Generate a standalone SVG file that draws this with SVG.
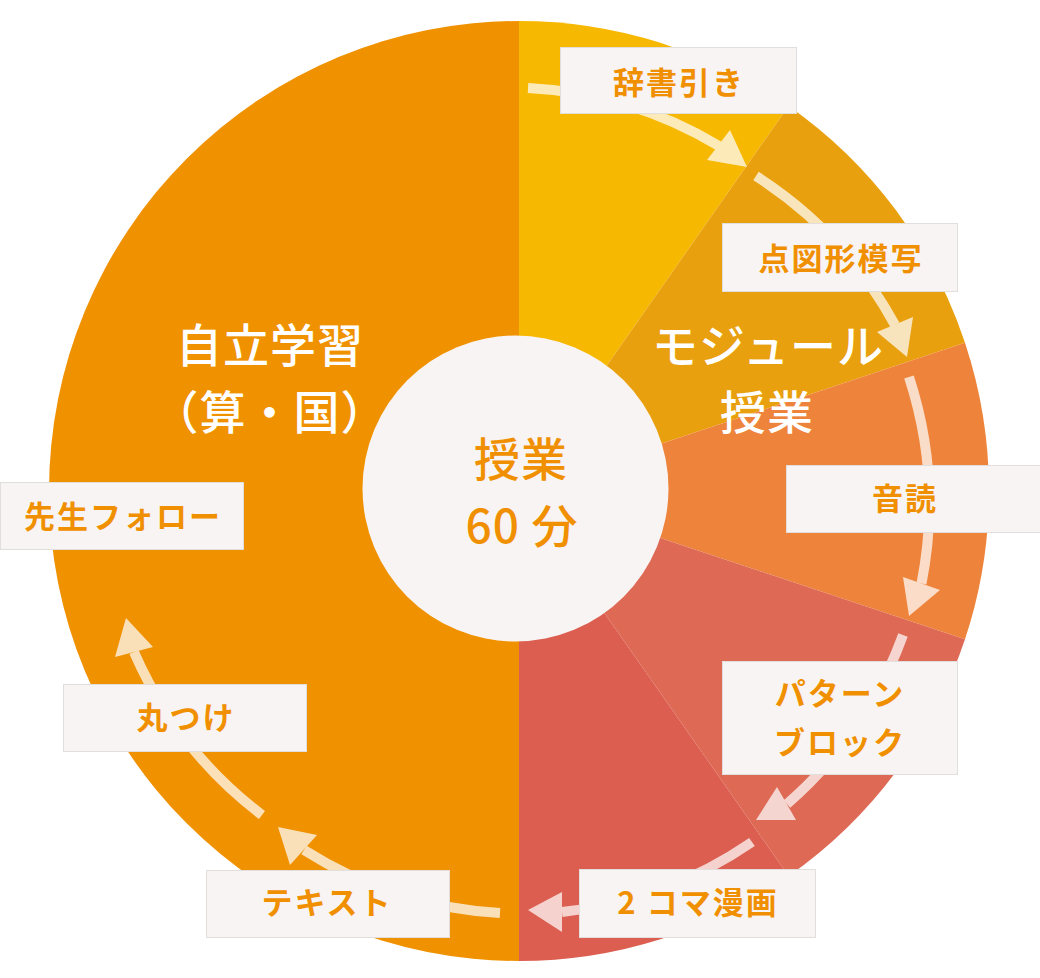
<svg xmlns="http://www.w3.org/2000/svg" width="1040" height="978" viewBox="0 0 1040 978">
<style>
.big{font-family:"Noto Sans CJK JP","Noto Sans",sans-serif;font-size:46px;font-weight:500;text-anchor:middle;letter-spacing:1px}
.w{fill:#FFFFFF}
.o{fill:#F09000}
.box{fill:#F8F4F3;stroke:#E2DEDC;stroke-width:1}
.lbl{font-family:"Noto Sans CJK JP","Noto Sans",sans-serif;font-size:31px;font-weight:700;fill:#F09000;text-anchor:middle;letter-spacing:2px}
.arr{opacity:0.72}
.arr path{fill:none;stroke:#FFFFFF;stroke-width:10}
.arr polygon{fill:#FFFFFF}
</style>
<rect width="1040" height="978" fill="#FFFFFF"/>
<g id="pie">
<path d="M519,21 A470,470 0 0 0 519,961 Z" fill="#F09100"/>
<path d="M519,491 L519,21 A470,470 0 0 1 788.58,106 Z" fill="#F6B800"/>
<path d="M519,491 L788.58,106 A470,470 0 0 1 964.97,342.64 Z" fill="#E9A00E"/>
<path d="M519,491 L964.97,342.64 A470,470 0 0 1 964.97,639.36 Z" fill="#EE843B"/>
<path d="M519,491 L964.97,639.36 A470,470 0 0 1 788.58,876 Z" fill="#DE6A56"/>
<path d="M519,491 L788.58,876 A470,470 0 0 1 519,961 Z" fill="#DC5E50"/>
</g>
<g id="center">
<circle cx="515.5" cy="488.5" r="153" fill="#F8F4F3"/>
<text class="big o" x="521" y="476">授業</text>
<text class="big o" x="522" y="543">60 分</text>
</g>
<g id="self-study">
<text class="big w" x="270" y="362">自立学習</text>
<text class="big w" x="270" y="429">（算・国）</text>
</g>
<g id="module">
<text class="big w" x="768" y="363">モジュール</text>
<text class="big w" x="767" y="429">授業</text>
</g>
<g id="connectors">
<g class="arr"><path d="M528,88 A410,410 0 0 1 719,146"/><polygon points="730,130 747,167 707,160"/></g>
<g class="arr"><path d="M756,176 A410,410 0 0 1 895,325"/><polygon points="877,332 913,317 907,357"/></g>
<g class="arr"><path d="M909,377 A410,410 0 0 1 921.5,583.5"/><polygon points="903,577 940,590 909,616"/></g>
<g class="arr"><path d="M903,635 A410,410 0 0 1 787,804"/><polygon points="777,787 796,820 756,820"/></g>
<g class="arr"><path d="M752,842 A410,410 0 0 1 562,912"/><polygon points="562,892 562,932 528,910"/></g>
<g class="arr"><path d="M500,913 A410,410 0 0 1 304,850"/><polygon points="290,865 317,835 278,827"/></g>
<g class="arr"><path d="M262,815 A410,410 0 0 1 134,652"/><polygon points="115,657 153,647 126,618"/></g>
</g>
<g id="n-jisho"><rect class="box" x="560.5" y="47.5" width="236" height="66"/><text class="lbl" x="679" y="94">辞書引き</text></g>
<g id="n-tenzukei"><rect class="box" x="722.5" y="223.5" width="235" height="68"/><text class="lbl" x="841" y="270">点図形模写</text></g>
<g id="n-ondoku"><rect class="box" x="786.5" y="465.5" width="260" height="67"/><text class="lbl" x="905" y="510">音読</text></g>
<g id="n-pattern"><rect class="box" x="722.5" y="661.5" width="235" height="113"/><text class="lbl" x="840" y="705">パターン</text><text class="lbl" x="840" y="754">ブロック</text></g>
<g id="n-manga"><rect class="box" x="579.5" y="869.5" width="236" height="68"/><text class="lbl" x="698" y="914">2 コマ漫画</text></g>
<g id="n-text"><rect class="box" x="206.5" y="870.5" width="243" height="67"/><text class="lbl" x="327" y="914">テキスト</text></g>
<g id="n-maru"><rect class="box" x="63.5" y="684.5" width="243" height="67"/><text class="lbl" x="186" y="729">丸つけ</text></g>
<g id="n-sensei"><rect class="box" x="0.5" y="482.5" width="243" height="67"/><text class="lbl" x="123" y="528">先生フォロー</text></g>
</svg>
